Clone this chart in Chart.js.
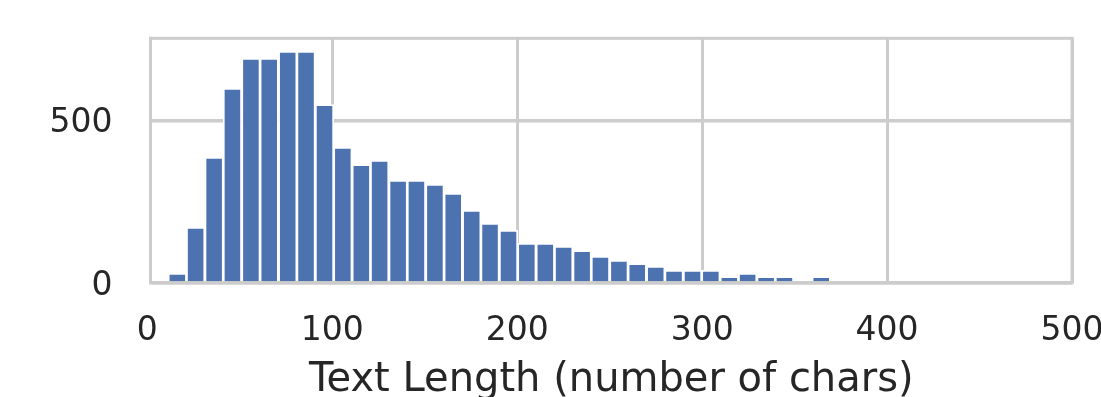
<!DOCTYPE html>
<html>
<head>
<meta charset="utf-8">
<title>Text length histogram</title>
<script src="https://cdn.jsdelivr.net/npm/chart.js@4.4.1/dist/chart.umd.min.js"></script>
<style>
  html, body { margin: 0; padding: 0; background: #ffffff; }
  canvas { display: block; }
</style>
</head>
<body>
<canvas id="lengthChart" width="1101" height="397"></canvas>
<script>
// Histogram bins (centre of each bin, in chars) and counts
const binCenters = [16.2, 26.1, 36.1, 46.0, 56.0, 65.9, 75.9, 85.8, 95.8, 105.7,
                    115.7, 125.6, 135.6, 145.5, 155.5, 165.4, 175.4, 185.3, 195.3, 205.2,
                    215.2, 225.1, 235.1, 245.0, 255.0, 264.9, 274.9, 284.8, 294.8, 304.7,
                    314.7, 324.6, 334.6, 344.5, 354.5, 364.4];
const counts = [30, 171, 387, 600, 692, 692, 714, 714, 550, 418,
                365, 378, 316, 316, 304, 276, 224, 184, 162, 122,
                122, 113, 100, 82, 70, 60, 51, 39, 39, 39,
                20, 30, 20, 20, 0, 20];
const xTicks = [0, 100, 200, 300, 400, 500];
const yTicks = [0, 500];

const barColor = '#4c72b0';
const gridColor = '#cccccc';
const textColor = '#262626';
const fontFamily = "'DejaVu Sans', sans-serif";

// cadre gris autour de la zone de tracé (dessiné par-dessus les barres)
const framePlugin = {
    id: 'frame',
    afterDatasetsDraw(chart) {
        const { ctx, chartArea: a } = chart;
        ctx.save();
        ctx.strokeStyle = gridColor;
        ctx.lineWidth = 3;
        ctx.strokeRect(a.left, a.top, a.right - a.left, a.bottom - a.top);
        ctx.restore();
    }
};

new Chart(document.getElementById('lengthChart'), {
    type: 'bar',
    data: {
        datasets: [{
            data: binCenters.map((x, i) => ({ x: x, y: counts[i] })),
            backgroundColor: barColor,
            borderColor: '#ffffff',
            borderWidth: 1.7,
            barPercentage: 1,
            categoryPercentage: 1
        }]
    },
    options: {
        responsive: false,
        animation: false,
        events: [],
        layout: {
            padding: { left: 0, right: 29, top: 38.3, bottom: 0 }
        },
        plugins: {
            legend: { display: false },
            tooltip: { enabled: false }
        },
        scales: {
            x: {
                type: 'linear',
                offset: false,
                min: 1.7,
                max: 500,
                afterBuildTicks: scale => { scale.ticks = xTicks.map(v => ({ value: v })); },
                afterFit: scale => {
                    scale.height = 114;
                    scale.paddingLeft = 0;
                    scale.paddingRight = 0;
                },
                grid: {
                    offset: false,
                    color: c => (c.tick && c.tick.value === 0 ? 'rgba(0,0,0,0)' : gridColor),
                    lineWidth: 3,
                    drawTicks: false
                },
                border: { display: false },
                ticks: {
                    padding: 29,
                    maxRotation: 0,
                    autoSkip: false,
                    color: textColor,
                    font: { family: fontFamily, size: 33 }
                },
                title: {
                    display: true,
                    text: 'Text Length (number of chars)',
                    color: textColor,
                    padding: { top: 0, bottom: 0 },
                    font: { family: fontFamily, size: 40, lineHeight: 0.8 }
                }
            },
            y: {
                min: 0,
                max: 754,
                afterBuildTicks: scale => { scale.ticks = yTicks.map(v => ({ value: v })); },
                afterFit: scale => {
                    scale.width = 150.5;
                    scale.paddingTop = 0;
                    scale.paddingBottom = 0;
                },
                grid: {
                    color: gridColor,
                    lineWidth: 3.5,
                    drawTicks: false
                },
                border: { display: false },
                ticks: {
                    padding: 38,
                    labelOffset: 3,
                    color: textColor,
                    font: { family: fontFamily, size: 33 }
                }
            }
        }
    },
    plugins: [framePlugin]
});
</script>
</body>
</html>
